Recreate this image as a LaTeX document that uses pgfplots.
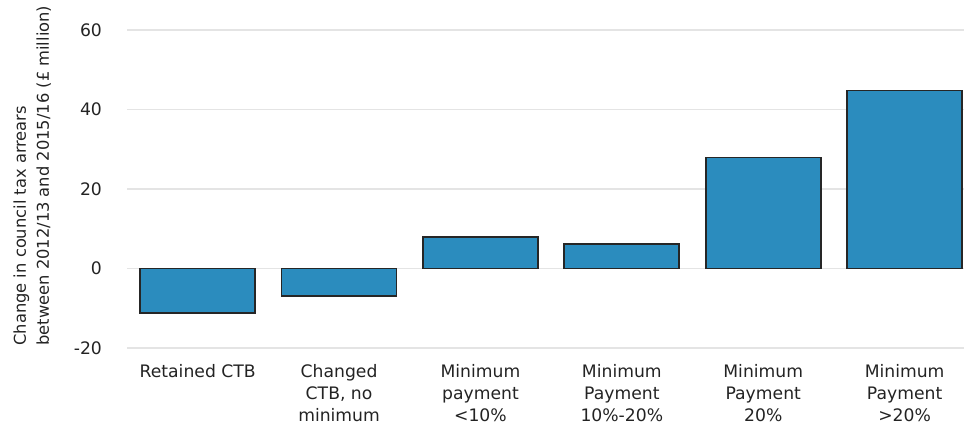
\documentclass[border=0pt]{standalone}
\usepackage{pgfplots}
\pgfplotsset{compat=1.18}
\usepackage{fontspec}
\setmainfont{DejaVu Sans}
\definecolor{barblue}{RGB}{43,140,190}
\definecolor{gridgray}{RGB}{228,228,228}
\definecolor{txt}{RGB}{35,35,35}
\begin{document}
\begin{tikzpicture}
\begin{axis}[
  scale only axis,
  width=418.5pt, height=159pt,
  xmin=-0.5, xmax=5.42,
  ymin=-20, ymax=60,
  ytick={-20,0,20,40,60},
  xtick={0,1,2,3,4,5},
  xticklabels={{Retained CTB},{Changed\\CTB, no\\minimum},{Minimum\\payment\\<10\%},{Minimum\\Payment\\10\%-20\%},{Minimum\\Payment\\20\%},{Minimum\\Payment\\>20\%}},
  xticklabel style={align=center, anchor=north, yshift=-4.5pt, font=\fontsize{8.6}{11}\selectfont, text=txt},
  yticklabel style={font=\fontsize{8.6}{10}\selectfont, text=txt, xshift=-9pt},
  /pgf/number format/assume math mode=true,
  major tick length=0pt,
  axis line style={draw=none},
  ymajorgrids=true,
  grid style={gridgray, line width=0.8pt},
  ybar, bar width=57.5pt,
  clip=false,
]
\addplot[fill=barblue, draw=black!85, line width=0.9pt] coordinates {
(0,-11.2) (1,-7) (2,8) (3,6.1) (4,27.9) (5,44.8)};
\end{axis}
\node[rotate=90, anchor=north west, align=left, inner sep=0pt, font=\fontsize{8.15}{11.5}\selectfont, text=txt] at ([xshift=-57pt, yshift=1pt]current axis.south west) {Change in council tax arrears\\between 2012/13 and 2015/16 (£ million)};
\pgfresetboundingbox
\path[use as bounding box] ([xshift=-63.5pt,yshift=-39pt]current axis.south west) rectangle ([yshift=15pt]current axis.north east);
\end{tikzpicture}
\end{document}
